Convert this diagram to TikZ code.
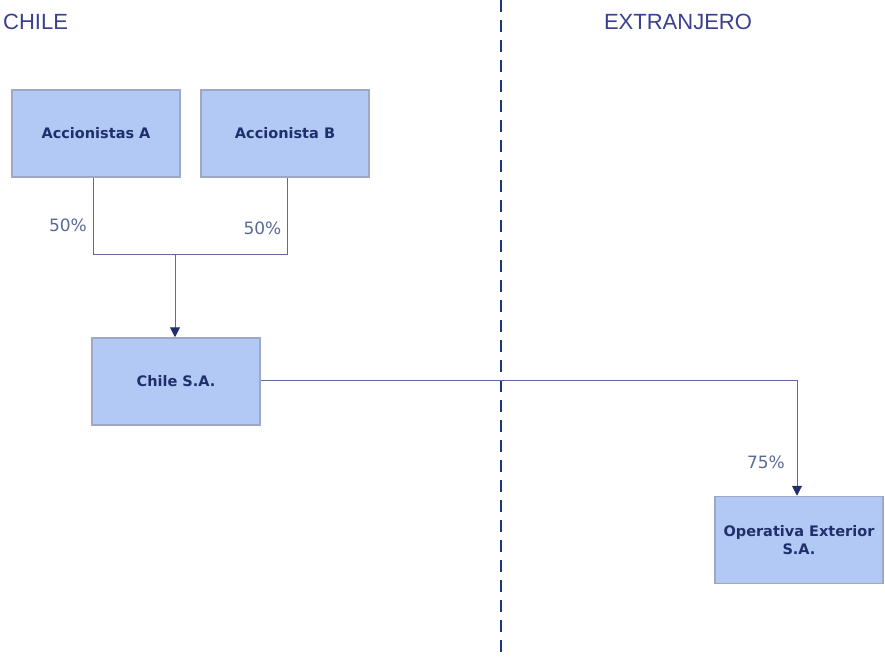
\documentclass[tikz,border=0pt]{standalone}
\usepackage{fontspec}
\setmainfont{Liberation Sans}
\newfontfamily\boxfont{DejaVu Sans}
\usetikzlibrary{arrows.meta}
\definecolor{boxfill}{HTML}{B3C9F5}
\definecolor{boxedge}{HTML}{9EA8C4}
\definecolor{navy}{HTML}{1F2F6B}
\definecolor{linec}{HTML}{5E6A9E}
\definecolor{titlec}{HTML}{3A3F8E}
\definecolor{pctc}{HTML}{5A6A98}
\definecolor{dashc}{HTML}{1E3580}
\begin{document}
\begin{tikzpicture}[x=1pt,y=-1pt,
  entity/.style={draw=boxedge,line width=1.5pt,fill=boxfill,minimum width=168pt,minimum height=87pt,inner sep=2pt,align=center,font=\boxfont\bfseries\fontsize{14.5}{18}\selectfont,text=navy},
  conn/.style={draw=linec,line width=1pt},
  tip/.style={arrows={-{Triangle[fill=navy,color=navy,length=10pt,width=10pt]}}},
  pct/.style={text=pctc,font=\boxfont\fontsize{17}{20}\selectfont},
  title/.style={text=titlec,font=\fontsize{22}{26}\selectfont}]
\useasboundingbox (0,0) rectangle (885,660);
\node[title,anchor=west,inner sep=0pt] (tchile) at (3,22) {CHILE};
\node[title] (text) at (678,22) {EXTRANJERO};
\coordinate (dtop) at (501,0);
\coordinate (dbot) at (501,660);
\draw[dashc,line width=2.6pt,dash pattern=on 12pt off 8pt] (dtop) -- (dbot);
\node[entity] (a) at (96,133.5) {Accionistas A};
\node[entity] (b) at (285,133.5) {Accionista B};
\node[entity] (c) at (176,381.5) {Chile S.A.};
\node[entity] (o) at (799,540) {Operativa Exterior\\S.A.};
\coordinate (ja) at (93,254);
\coordinate (jb) at (287,254);
\coordinate (jm) at (175,254);
\draw[conn] (a.south -| ja) -- (ja) -- (jb) -- (b.south -| jb);
\draw[conn,tip] (jm) -- (c.north -| jm);
\coordinate (jo) at (797,380);
\draw[conn,tip] (c.east |- jo) -- (jo) -- (o.north -| jo);
\node[pct] (p1) at (68,225) {50\%};
\node[pct] (p2) at (262.5,228) {50\%};
\node[pct] (p3) at (766,462) {75\%};
\end{tikzpicture}
\end{document}
